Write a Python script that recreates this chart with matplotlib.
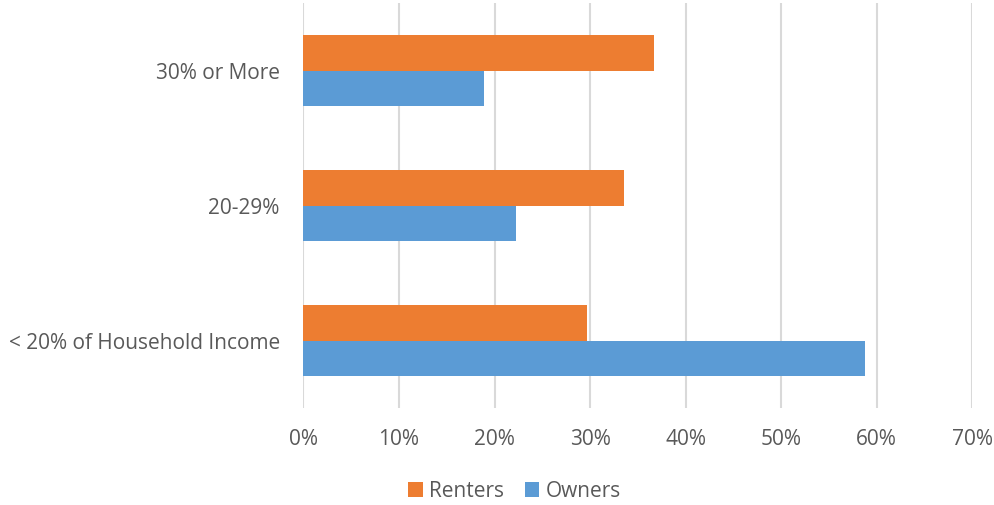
import matplotlib
matplotlib.use("Agg")
import matplotlib.pyplot as plt
import numpy as np
from matplotlib.ticker import FuncFormatter

categories = ["< 20% of Household Income", "20-29%", "30% or More"]
renters = [29.7, 33.6, 36.7]
owners = [58.8, 22.3, 18.9]
xticks = [0, 10, 20, 30, 40, 50, 60, 70]

plt.rcParams['font.family'] = ['Open Sans', 'DejaVu Sans']
txt = '#595959'

fig = plt.figure(figsize=(9.95, 5.05), dpi=100)
ax = fig.add_axes([0.305, 0.192, 0.672, 0.802])

y = np.arange(len(categories))
h = 0.26
ax.barh(y - h/2, owners, height=h, color='#5B9BD5', label='Owners', zorder=3)
ax.barh(y + h/2, renters, height=h, color='#ED7D31', label='Renters', zorder=3)

ax.set_xlim(0, 70)
ax.set_ylim(-0.5, 2.5)
ax.set_xticks(xticks)
ax.xaxis.set_major_formatter(FuncFormatter(lambda v, p: f"{int(v)}%"))
ax.set_yticks(y)
ax.set_yticklabels(categories)
ax.grid(axis='x', color='#D9D9D9', linewidth=1.5, zorder=0)
for s in ax.spines.values():
    s.set_visible(False)
ax.tick_params(axis='both', length=0, labelsize=15, labelcolor=txt)
ax.tick_params(axis='x', pad=15)
ax.tick_params(axis='y', pad=17)

handles, labels = ax.get_legend_handles_labels()
fig.legend(handles[::-1], labels[::-1], loc='center', bbox_to_anchor=(0.517, 0.027),
           ncol=2, frameon=False, fontsize=15, labelcolor=txt,
           handlelength=0.7, handleheight=0.7, handletextpad=0.3, columnspacing=1.0)

fig.savefig('out.png', dpi=100)
